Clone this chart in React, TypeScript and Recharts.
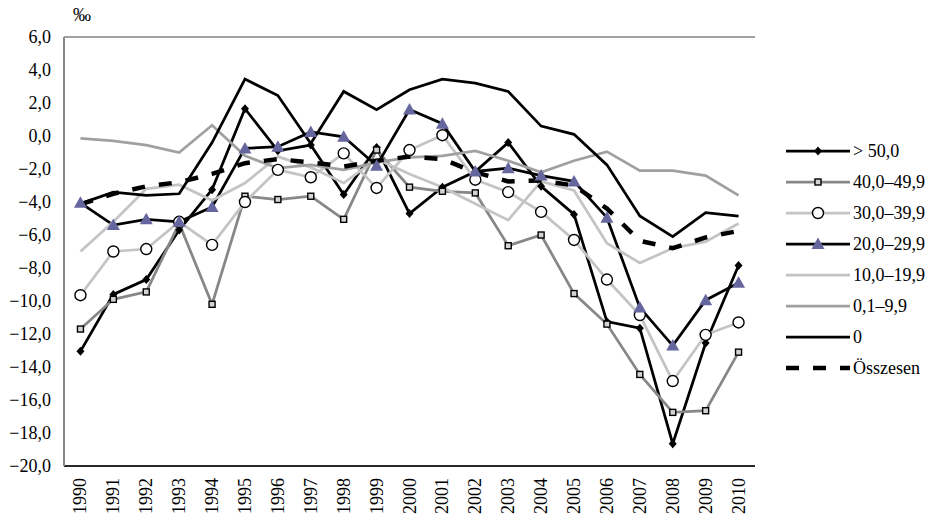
import { LineChart, Line, XAxis, YAxis, CartesianGrid, Legend } from 'recharts'

const years = [
  '1990', '1991', '1992', '1993', '1994', '1995', '1996', '1997', '1998', '1999', '2000',
  '2001', '2002', '2003', '2004', '2005', '2006', '2007', '2008', '2009', '2010',
]

const over50 = [-13.05, -9.6, -8.7, -5.7, -3.25, 1.65, -0.9, -0.55, -3.55, -0.7, -4.7, -3.1, -2.15, -0.4, -3.05, -4.75, -11.25, -11.65, -18.65, -12.55, -7.85]
const r40 = [-11.7, -9.9, -9.45, -5.3, -10.2, -3.65, -3.85, -3.65, -5.05, -0.85, -3.1, -3.35, -3.45, -6.65, -6.0, -9.55, -11.4, -14.45, -16.75, -16.65, -13.1]
const r30 = [-9.65, -7.0, -6.85, -5.2, -6.6, -4.0, -2.05, -2.5, -1.05, -3.15, -0.85, 0.05, -2.65, -3.4, -4.6, -6.3, -8.7, -10.85, -14.85, -12.05, -11.3]
const r20 = [-4.05, -5.4, -5.05, -5.2, -4.3, -0.75, -0.65, 0.25, -0.05, -1.8, 1.6, 0.75, -2.15, -1.95, -2.4, -2.75, -4.95, -10.4, -12.7, -9.95, -8.9]
const r10 = [-7.0, -5.2, -3.2, -2.95, -3.9, -2.85, -1.25, -1.9, -2.85, -1.4, -2.3, -3.1, -4.1, -5.1, -2.75, -3.3, -6.5, -7.7, -6.8, -6.4, -5.3]
const r01 = [-0.15, -0.3, -0.55, -1.0, 0.65, -1.2, -1.95, -1.75, -2.05, -1.6, -1.3, -1.2, -0.9, -1.5, -2.2, -1.5, -0.95, -2.1, -2.1, -2.4, -3.6]
const r0 = [-4.1, -3.4, -3.6, -3.5, -0.4, 3.45, 2.45, -0.45, 2.7, 1.6, 2.8, 3.45, 3.2, 2.7, 0.6, 0.1, -1.75, -4.85, -6.1, -4.65, -4.85]
const total = [-4.15, -3.5, -3.05, -2.8, -2.3, -1.65, -1.4, -1.6, -1.85, -1.5, -1.25, -1.4, -2.2, -2.75, -2.7, -3.0, -4.4, -6.35, -6.8, -6.15, -5.75]

const yTicks = [6, 4, 2, 0, -2, -4, -6, -8, -10, -12, -14, -16, -18, -20]

type Marker = 'diamond' | 'square' | 'circle' | 'triangle' | 'none'

interface Series {
  key: string
  name: string
  values: number[]
  color: string
  marker: Marker
  dash?: string
  width: number
}

const SERIES: Series[] = [
  { key: 'over50', name: '> 50,0', values: over50, color: '#000000', marker: 'diamond', width: 2.75 },
  { key: 'r40', name: '40,0–49,9', values: r40, color: '#878787', marker: 'square', width: 2.75 },
  { key: 'r30', name: '30,0–39,9', values: r30, color: '#c4c4c4', marker: 'circle', width: 2.75 },
  { key: 'r20', name: '20,0–29,9', values: r20, color: '#000000', marker: 'triangle', width: 2.75 },
  { key: 'r10', name: '10,0–19,9', values: r10, color: '#c4c4c4', marker: 'none', width: 2.75 },
  { key: 'r01', name: '0,1–9,9', values: r01, color: '#a0a0a0', marker: 'none', width: 2.75 },
  { key: 'r0', name: '0', values: r0, color: '#000000', marker: 'none', width: 2.75 },
  { key: 'total', name: 'Összesen', values: total, color: '#000000', marker: 'none', dash: '13 14', width: 4.5 },
]

const data = years.map((year, i) => {
  const row: Record<string, string | number> = { year }
  SERIES.forEach((s) => { row[s.key] = s.values[i] })
  return row
})

const FONT = '"Liberation Serif", "Times New Roman", serif'

function fmt(v: number) {
  return v.toFixed(1).replace('.', ',').replace('-', '−')
}

function marker(kind: Marker, cx: number, cy: number, key?: string | number) {
  if (kind === 'diamond') {
    return <path key={key} d={`M${cx},${cy - 4.5}L${cx + 4},${cy}L${cx},${cy + 4.5}L${cx - 4},${cy}Z`} fill="#000" />
  }
  if (kind === 'square') {
    return <rect key={key} x={cx - 3} y={cy - 3} width={6} height={6} fill="#d4d4d4" stroke="#000" strokeWidth={1.4} />
  }
  if (kind === 'circle') {
    return <circle key={key} cx={cx} cy={cy} r={5.5} fill="#fff" stroke="#000" strokeWidth={1.4} />
  }
  if (kind === 'triangle') {
    return <path key={key} d={`M${cx},${cy - 6.5}L${cx + 6.5},${cy + 5}L${cx - 6.5},${cy + 5}Z`} fill="#66669f" />
  }
  return <g key={key} />
}

function YearTick(props: { x?: number; y?: number; payload?: { value: string } }) {
  const { x = 0, y = 0, payload } = props
  return (
    <text
      x={x}
      y={y}
      transform={`rotate(-90, ${x}, ${y})`}
      textAnchor="end"
      dominantBaseline="central"
      fontFamily={FONT}
      fontSize={18}
      fill="#000"
    >
      {payload?.value}
    </text>
  )
}

function LegendBox() {
  return (
    <div style={{ width: 150, fontFamily: FONT, fontSize: 18, color: '#000' }}>
      {SERIES.map((s) => (
        <div key={s.key} style={{ height: 31, display: 'flex', alignItems: 'center' }}>
          <svg width={67} height={20} style={{ flex: 'none' }}>
            <line x1={0} x2={64} y1={10} y2={10} stroke={s.color} strokeWidth={s.width} strokeDasharray={s.dash} />
            {marker(s.marker, 32, 10)}
          </svg>
          <span style={{ whiteSpace: 'nowrap', lineHeight: 1 }}>{s.name}</span>
        </div>
      ))}
    </div>
  )
}

export default function App() {
  return (
    <div style={{ position: 'relative', width: 930, height: 515, background: '#fff' }}>
      <style>{'body{margin:0}'}</style>
      <div style={{ position: 'absolute', left: 73, top: 6, fontFamily: FONT, fontSize: 18, lineHeight: 1 }}>‰</div>
      <LineChart
        width={930}
        height={515}
        data={data}
        margin={{ top: 37, right: 175, left: 10, bottom: 0 }}
      >
        <CartesianGrid vertical={false} stroke="#444" strokeWidth={1} />
        <XAxis
          dataKey="year"
          scale="band"
          height={49}
          interval={0}
          tick={<YearTick />}
          tickLine={false}
          tickMargin={6}
          axisLine={{ stroke: '#000', strokeWidth: 1.5 }}
        />
        <YAxis
          yAxisId="left"
          width={54}
          domain={[-20, 6]}
          ticks={yTicks}
          tickFormatter={fmt}
          tickLine={false}
          tickMargin={7}
          tick={{ fontFamily: FONT, fontSize: 18, fill: '#000' }}
          axisLine={{ stroke: '#888', strokeWidth: 2 }}
        />
        <YAxis
          yAxisId="right"
          orientation="right"
          width={0}
          domain={[-20, 6]}
          ticks={yTicks}
          tick={false}
          tickLine={false}
          axisLine={{ stroke: '#000', strokeWidth: 1 }}
        />
        <Legend
          content={<LegendBox />}
          wrapperStyle={{ position: 'absolute', left: 786, top: 135, width: 0, height: 0, overflow: 'visible' }}
        />
        {SERIES.map((s) => (
          <Line
            key={s.key}
            yAxisId="left"
            dataKey={s.key}
            name={s.name}
            stroke={s.color}
            strokeWidth={s.width}
            strokeDasharray={s.dash}
            strokeLinejoin="miter"
            type="linear"
            isAnimationActive={false}
            dot={s.marker === 'none' ? false : (p: { cx: number; cy: number; index: number }) => marker(s.marker, p.cx, p.cy, `${s.key}-${p.index}`)}
            activeDot={false}
          />
        ))}
      </LineChart>
    </div>
  )
}
